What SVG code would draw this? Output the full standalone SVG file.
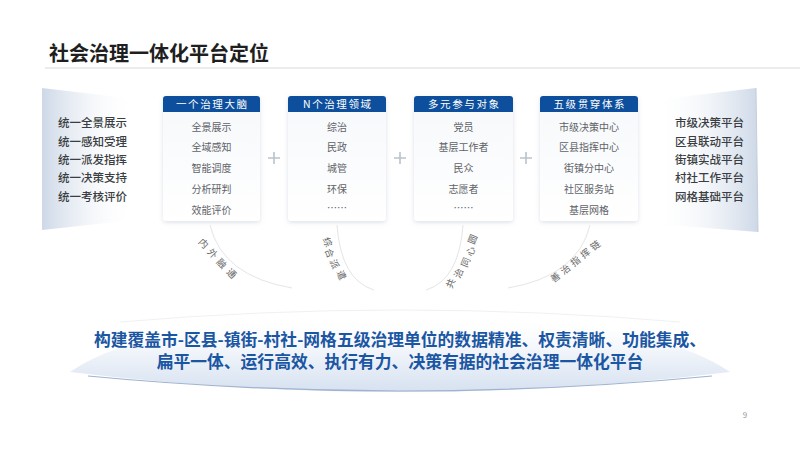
<svg xmlns="http://www.w3.org/2000/svg" width="800" height="450" viewBox="0 0 800 450">
<defs>
<style>
.t{font-family:"Noto Sans CJK SC","Noto Sans",sans-serif;}
.side{font-size:11.5px;fill:#3a3d42;font-weight:500;}
.hd{font-size:10.5px;fill:#fff;letter-spacing:1.6px;text-anchor:middle;}
.it{font-size:10px;fill:#5f6368;text-anchor:middle;}
.arc{font-size:9.5px;fill:#666;text-anchor:middle;dominant-baseline:central;}
.plus{stroke:#b9c2cc;stroke-width:1.6;}
.ln{fill:none;stroke:#e2e5e9;stroke-width:1;}
.ban{font-size:16.8px;font-weight:700;fill:#1b56a3;text-anchor:middle;}
</style>
<linearGradient id="gl" x1="0" y1="0" x2="1" y2="0">
<stop offset="0" stop-color="#cdd8e7"/><stop offset="1" stop-color="#ffffff" stop-opacity="0"/>
</linearGradient>
<linearGradient id="gr" x1="0" y1="0" x2="1" y2="0">
<stop offset="0" stop-color="#ffffff" stop-opacity="0"/><stop offset="1" stop-color="#cdd8e7"/>
</linearGradient>
<linearGradient id="gb" x1="0" y1="0" x2="0" y2="1">
<stop offset="0" stop-color="#ffffff" stop-opacity="0"/><stop offset="0.5" stop-color="#f0f4fa"/><stop offset="1" stop-color="#d6e1f0"/>
</linearGradient>
<linearGradient id="gbox" x1="0" y1="0" x2="0" y2="1">
<stop offset="0" stop-color="#f6f8fb"/><stop offset="1" stop-color="#ffffff"/>
</linearGradient>
<filter id="sh" x="-20%" y="-20%" width="140%" height="140%">
<feDropShadow dx="0" dy="1.5" stdDeviation="2" flood-color="#8a9bb0" flood-opacity="0.3"/>
</filter>
</defs>
<rect width="800" height="450" fill="#ffffff"/>

<g id="title">
<text class="t" x="49" y="61" font-size="20" font-weight="700" fill="#1f1f1f">社会治理一体化平台定位</text>
<line x1="45" y1="68" x2="800" y2="68" stroke="#d9d9d9" stroke-width="1"/>
</g>

<g id="left-panel">
<polygon points="42,88 135,99 135,220 42,230" fill="url(#gl)"/>
<g class="t side">
<text x="58" y="127">统一全景展示</text>
<text x="58" y="146">统一感知受理</text>
<text x="58" y="164">统一派发指挥</text>
<text x="58" y="182">统一决策支持</text>
<text x="58" y="201">统一考核评价</text>
</g>
</g>

<g id="right-panel">
<polygon points="655,100 756,88 758,232 655,224" fill="url(#gr)"/>
<line x1="756" y1="88" x2="758" y2="232" stroke="#c4cfdd" stroke-width="1"/>
<g class="t side">
<text x="675" y="127">市级决策平台</text>
<text x="675" y="146">区县联动平台</text>
<text x="675" y="164">街镇实战平台</text>
<text x="675" y="182">村社工作平台</text>
<text x="675" y="201">网格基础平台</text>
</g>
</g>

<g id="box1">
<rect x="163" y="96" width="97" height="125" rx="3" fill="url(#gbox)" filter="url(#sh)"/>
<path d="M163,112 V99 a3,3 0 0 1 3,-3 H257 a3,3 0 0 1 3,3 V112 Z" fill="#0d4f9c"/>
<text class="t hd" x="212.3" y="108">一个治理大脑</text>
<g class="t it">
<text x="211.5" y="131">全景展示</text>
<text x="211.5" y="151">全域感知</text>
<text x="211.5" y="172">智能调度</text>
<text x="211.5" y="193">分析研判</text>
<text x="211.5" y="214">效能评价</text>
</g>
</g>

<g id="box2">
<rect x="288" y="96" width="98" height="125" rx="3" fill="url(#gbox)" filter="url(#sh)"/>
<path d="M288,112 V99 a3,3 0 0 1 3,-3 H383 a3,3 0 0 1 3,3 V112 Z" fill="#0d4f9c"/>
<text class="t hd" x="337.8" y="108">N个治理领域</text>
<g class="t it">
<text x="337" y="131">综治</text>
<text x="337" y="151">民政</text>
<text x="337" y="172">城管</text>
<text x="337" y="193">环保</text>
<text x="337" y="212">……</text>
</g>
</g>

<g id="box3">
<rect x="414" y="96" width="99" height="125" rx="3" fill="url(#gbox)" filter="url(#sh)"/>
<path d="M414,112 V99 a3,3 0 0 1 3,-3 H510 a3,3 0 0 1 3,3 V112 Z" fill="#0d4f9c"/>
<text class="t hd" x="464.3" y="108">多元参与对象</text>
<g class="t it">
<text x="463.5" y="131">党员</text>
<text x="463.5" y="151">基层工作者</text>
<text x="463.5" y="172">民众</text>
<text x="463.5" y="193">志愿者</text>
<text x="463.5" y="212">……</text>
</g>
</g>

<g id="box4">
<rect x="540" y="96" width="98" height="125" rx="3" fill="url(#gbox)" filter="url(#sh)"/>
<path d="M540,112 V99 a3,3 0 0 1 3,-3 H635 a3,3 0 0 1 3,3 V112 Z" fill="#0d4f9c"/>
<text class="t hd" x="589.8" y="108">五级贯穿体系</text>
<g class="t it">
<text x="589" y="131">市级决策中心</text>
<text x="589" y="151">区县指挥中心</text>
<text x="589" y="172">街镇分中心</text>
<text x="589" y="193">社区服务站</text>
<text x="589" y="214">基层网格</text>
</g>
</g>

<g id="connectors">
<path class="plus" d="M268,158 H280 M274,152 V164"/>
<path class="plus" d="M394,158 H406 M400,152 V164"/>
<path class="plus" d="M520,158 H532 M526,152 V164"/>
<path class="ln" d="M210,225 Q222,276 292,288"/>
<path class="ln" d="M337,225 Q341,280 374,290"/>
<path class="ln" d="M463,225 Q459,280 426,290"/>
<path class="ln" d="M590,225 Q578,276 508,288"/>
</g>

<g id="arc-labels" class="t arc">
<text transform="translate(204,243) rotate(45)">内</text>
<text transform="translate(213,253) rotate(45)">外</text>
<text transform="translate(222,263) rotate(45)">融</text>
<text transform="translate(232,273) rotate(45)">通</text>
<text transform="translate(328,242) rotate(68)">综</text>
<text transform="translate(330,253) rotate(68)">合</text>
<text transform="translate(335,264) rotate(68)">派</text>
<text transform="translate(342,275) rotate(68)">遣</text>
<text transform="translate(450,283) rotate(-68)">共</text>
<text transform="translate(458,273) rotate(-68)">治</text>
<text transform="translate(465,262) rotate(-68)">同</text>
<text transform="translate(470,251) rotate(-68)">心</text>
<text transform="translate(472,239) rotate(-68)">圆</text>
<text transform="translate(555,277) rotate(-38)">善</text>
<text transform="translate(565,269) rotate(-38)">治</text>
<text transform="translate(575,261) rotate(-38)">指</text>
<text transform="translate(585,253) rotate(-38)">挥</text>
<text transform="translate(595,245) rotate(-38)">链</text>
</g>

<g id="banner">
<path d="M70,372 Q150,316 400,314 Q650,316 730,372 Q400,412 70,372 Z" fill="url(#gb)"/>
<path d="M88,376 Q400,406 712,376" fill="none" stroke="#9fb3cf" stroke-width="1.2"/>
<path d="M120,322 Q400,298 680,322" fill="none" stroke="#eef1f5" stroke-width="1"/>
<g class="t ban">
<text x="400" y="346">构建覆盖市-区县-镇街-村社-网格五级治理单位的数据精准、权责清晰、功能集成、</text>
<text x="400" y="368">扁平一体、运行高效、执行有力、决策有据的社会治理一体化平台</text>
</g>
</g>

<text class="t" x="745" y="418" font-size="8" fill="#9a9a9a" text-anchor="middle">9</text>
</svg>
